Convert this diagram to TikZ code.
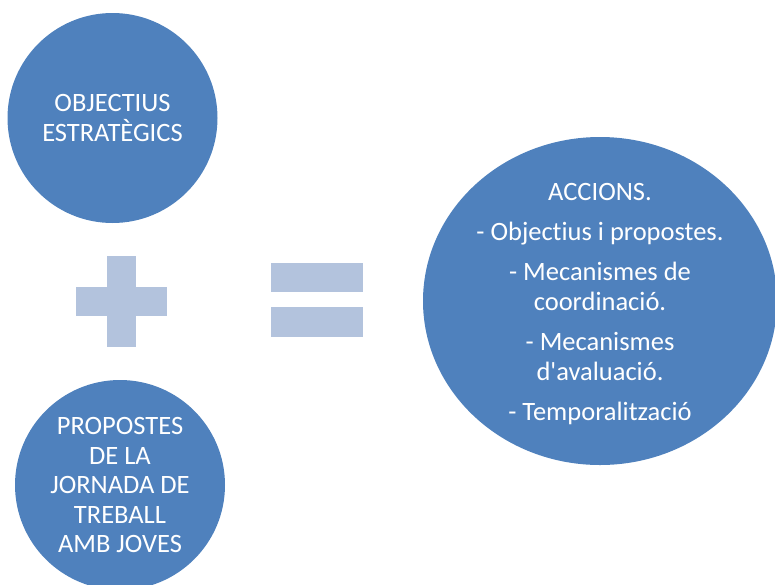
\documentclass[tikz,border=0pt]{standalone}
\usepackage{fontspec}
\setmainfont{Carlito}[Ligatures={NoCommon,TeXOff}]
\usetikzlibrary{shapes.geometric}
\definecolor{circblue}{HTML}{4F81BD}
\definecolor{signblue}{HTML}{B3C3DD}
\tikzset{
  blob/.style={circle, fill=circblue, draw=none, text=white, align=center, minimum size=210pt, inner sep=0pt, font=\fontsize{26.5}{29.5}\selectfont},
  bigblob/.style={ellipse, fill=circblue, draw=none, minimum width=354pt, minimum height=328pt, inner sep=0pt},
  blobtext/.style={text=white, align=center, font=\fontsize{26.5}{30}\selectfont},
  bar/.style={fill=signblue, draw=none, inner sep=0pt}
}
\begin{document}
\begin{tikzpicture}[x=1pt,y=-1pt]
\useasboundingbox (0,0) rectangle (775,584);
\clip (0,0) rectangle (775,584);
\node[blob] (obj) at (112.5,118) {OBJECTIUS\\ESTRATÈGICS};
\node[blob] (prop) at (120,485) {PROPOSTES\\DE LA\\JORNADA DE\\TREBALL\\AMB JOVES};
\node[bar, minimum width=29pt, minimum height=91pt] (plusv) at (121.5,301.5) {};
\node[bar, minimum width=91pt, minimum height=29pt] (plush) at (121.5,301.5) {};
\node[bar, minimum width=92pt, minimum height=29pt] (eqa) at (317,277.5) {};
\node[bar, minimum width=92pt, minimum height=30pt] (eqb) at (317,322) {};
\node[bigblob] (acc) at (600,301) {};
\node[blobtext] (acct) at ([yshift=-3pt]acc.center) {ACCIONS.\\[10pt]- Objectius i propostes.\\[10pt]- Mecanismes de\\coordinació.\\[10pt]- Mecanismes\\d'avaluació.\\[10pt]- Temporalització};
\end{tikzpicture}
\end{document}
